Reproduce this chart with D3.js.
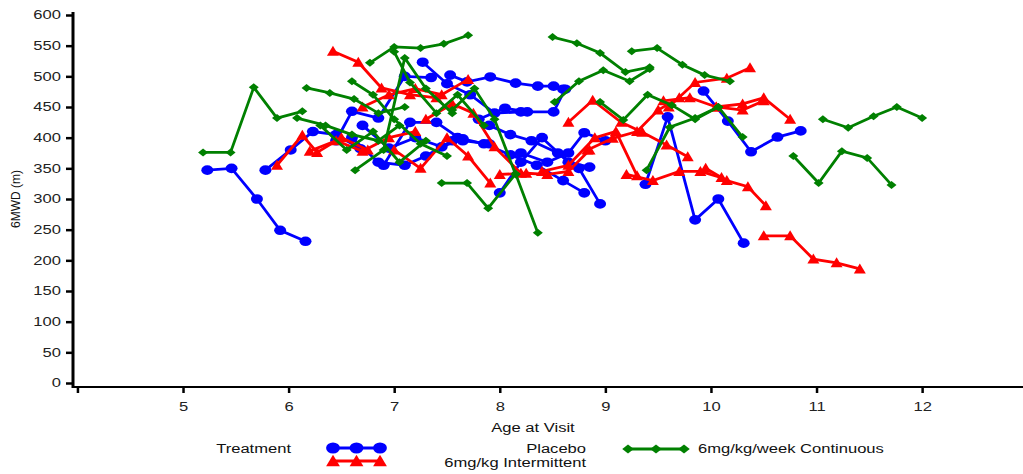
<!DOCTYPE html>
<html>
<head>
<meta charset="utf-8">
<script src="https://cdn.jsdelivr.net/npm/d3@7"></script>
<style>
  body { margin: 0; background: #fff; }
  text { font-family: "Liberation Sans", Arial, sans-serif; fill: #111; }
  .tick text { font-size: 12px; fill: #222; }
</style>
</head>
<body>
<div id="chart"></div>
<script>
// age at visit / 6MWD per subject
const placebo = [
  [[5.23,347],[5.46,350],[5.70,300],[5.92,249],[6.16,231]],
  [[5.78,347],[6.02,380],[6.23,410],[6.45,405],[6.68,382]],
  [[6.45,395],[6.60,443],[6.85,432],[7.10,500],[7.35,498]],
  [[7.27,523],[7.50,488],[7.72,470],[7.95,440],[8.20,442]],
  [[7.53,502],[7.69,491],[7.91,499],[8.15,489],[8.36,484],[8.51,484],[8.60,479]],
  [[7.80,430],[8.05,448],[8.26,442],[8.51,442],[8.62,479]],
  [[6.90,355],[7.15,425],[7.40,425],[7.65,395],[7.90,390]],
  [[7.60,400],[7.85,390],[8.10,372],[8.35,355],[8.60,330],[8.80,310]],
  [[7.90,420],[8.10,405],[8.30,395],[8.55,375],[8.75,350],[8.95,292]],
  [[8.00,310],[8.20,360],[8.40,400],[8.65,360],[8.85,352]],
  [[8.20,375],[8.45,360],[8.65,375],[8.80,408],[9.00,395]],
  [[9.38,324],[9.59,434],[9.85,266],[10.07,300],[10.31,228]],
  [[9.93,476],[10.16,427],[10.38,377],[10.63,401],[10.85,411]],
  [[6.70,420],[6.95,383],[7.20,400],[7.45,385],[7.65,398]],
  [[6.60,400],[6.85,360],[7.10,355],[7.30,370],[7.55,395]]
];
const intermittent = [
  [[6.42,541],[6.66,523],[6.88,481],[7.15,470],[7.40,465]],
  [[5.89,355],[6.13,404],[6.27,376],[6.50,400],[6.75,380]],
  [[6.20,378],[6.45,395],[6.70,378],[6.95,400],[7.20,410]],
  [[6.70,450],[6.95,470],[7.20,480],[7.45,470],[7.70,495]],
  [[7.00,380],[7.25,350],[7.50,400],[7.70,370],[7.91,326]],
  [[7.30,430],[7.55,455],[7.75,440],[7.95,385],[8.20,342]],
  [[8.00,340],[8.25,342],[8.45,340],[8.65,345],[8.85,380]],
  [[8.65,425],[8.88,461],[9.15,425],[9.35,409],[9.58,388],[9.78,369]],
  [[8.83,380],[9.07,399],[9.30,410],[9.50,445],[9.70,465]],
  [[9.60,450],[9.85,490],[10.15,497],[10.37,514]],
  [[9.20,340],[9.45,330],[9.70,345],[9.90,345],[10.10,335]],
  [[9.55,460],[9.80,465],[10.05,450],[10.30,445],[10.50,460]],
  [[9.95,350],[10.15,330],[10.35,320],[10.52,289]],
  [[10.50,240],[10.75,240],[10.97,202],[11.19,196],[11.41,186]],
  [[10.05,450],[10.30,455],[10.50,465],[10.75,430]],
  [[8.40,345],[8.65,355],[8.90,400],[9.10,410],[9.30,338]]
];
const continuous = [
  [[5.19,376],[5.45,376],[5.67,482],[5.89,432],[6.13,443]],
  [[6.08,432],[6.35,420],[6.60,405],[6.85,395],[7.05,420]],
  [[6.17,481],[6.39,473],[6.62,463],[6.85,440],[7.10,450]],
  [[6.77,522],[7.00,548],[7.25,546],[7.47,553],[7.70,567]],
  [[7.00,540],[7.15,490],[7.40,440],[7.60,470],[7.85,420]],
  [[6.60,492],[6.80,470],[7.00,430],[7.25,390],[7.50,370]],
  [[6.63,347],[6.90,380],[7.10,530],[7.30,480],[7.55,440]],
  [[7.45,326],[7.69,326],[7.89,285],[8.15,341],[8.36,245]],
  [[7.55,445],[7.76,480],[7.95,430],[8.15,340]],
  [[8.52,458],[8.75,492],[8.98,510],[9.23,492],[9.42,512]],
  [[8.50,564],[8.73,554],[8.95,538],[9.19,507],[9.42,515]],
  [[9.25,541],[9.49,546],[9.73,519],[9.94,502],[10.18,492]],
  [[8.95,458],[9.17,429],[9.40,470],[9.63,453],[9.85,430],[10.07,450],[10.30,401]],
  [[9.39,347],[9.61,417],[9.85,432],[10.07,450]],
  [[11.06,430],[11.30,416],[11.54,435],[11.76,450],[12.00,432]],
  [[10.78,370],[11.02,326],[11.24,378],[11.48,367],[11.71,323]],
  [[6.30,420],[6.55,380],[6.80,410],[7.05,360],[7.30,395]]
];
const xTicks = [4, 5, 6, 7, 8, 9, 10, 11, 12];
const yTicks = [0, 50, 100, 150, 200, 250, 300, 350, 400, 450, 500, 550, 600];
const groups = [
  {name: "Placebo", color: "#0000ff", shape: "circle", data: placebo},
  {name: "6mg/kg Intermittent", color: "#ff0000", shape: "triangle", data: intermittent},
  {name: "6mg/kg/week Continuous", color: "#008000", shape: "diamond", data: continuous}
];

const width = 1023, height = 474;
const stretch = 1.38; // the picture's text is wide, like a horizontally stretched image

const svg = d3.select("#chart").append("svg")
  .attr("width", width).attr("height", height);

const xScale = d3.scaleLinear().domain([3.958, 12.927]).range([73, 1020]);
const yScale = d3.scaleLinear().domain([0, 600]).range([383, 15]);

// marker shapes
function marker(sel, shape, color, k) {
  k = k || 1;
  if (shape === "circle") {
    sel.append("ellipse").attr("rx", 6 * k).attr("ry", 4.8 * k).attr("fill", color);
  } else if (shape === "triangle") {
    sel.append("path").attr("d", `M0,${-5.5*k}L${6*k},${4.5*k}L${-6*k},${4.5*k}Z`).attr("fill", color);
  } else {
    sel.append("path").attr("d", `M0,${-4*k}L${5*k},0L0,${4*k}L${-5*k},0Z`).attr("fill", color);
  }
}

// stretched text placed at (x, y)
function wideText(parent, x, y, str, anchor, size) {
  return parent.append("text")
    .attr("transform", `translate(${x},${y}) scale(${stretch},1)`)
    .attr("text-anchor", anchor || "start")
    .attr("font-size", size || 12)
    .text(str);
}

const line = d3.line().x(d => xScale(d[0])).y(d => yScale(d[1]));

// draw subjects
groups.forEach(function(g) {
  const subj = svg.append("g").selectAll("g")
    .data(g.data).enter().append("g");
  subj.append("path")
    .attr("d", line)
    .attr("fill", "none")
    .attr("stroke", g.color)
    .attr("stroke-width", 2.8);
  subj.selectAll("g.pt")
    .data(d => d).enter().append("g")
    .attr("class", "pt")
    .attr("transform", d => `translate(${xScale(d[0])},${yScale(d[1])})`)
    .each(function() { marker(d3.select(this), g.shape, g.color); });
});

// axes
const yAxis = svg.append("g")
  .attr("transform", "translate(73,0)")
  .call(d3.axisLeft(yScale).tickValues(yTicks).tickSize(7));
yAxis.select(".domain").attr("d", "M0,12V388").attr("stroke-width", 3);
yAxis.selectAll(".tick line").attr("stroke-width", 2.5);
yAxis.selectAll(".tick text")
  .attr("x", 0)
  .attr("transform", `translate(-12,0) scale(${stretch},1)`);

const xAxis = svg.append("g")
  .attr("transform", "translate(0,387)")
  .call(d3.axisBottom(xScale).tickValues(xTicks).tickSize(6).tickPadding(9)
    .tickFormat(d => d === 4 ? "" : d));
xAxis.select(".domain").attr("d", `M73,0H${width}`).attr("stroke-width", 2);
xAxis.selectAll(".tick line").attr("stroke-width", 2.5);
xAxis.selectAll(".tick text").attr("transform", `scale(${stretch},1)`);

// axis titles
svg.append("text")
  .attr("transform", "translate(20,199) rotate(-90)")
  .attr("text-anchor", "middle")
  .attr("font-size", 12)
  .text("6MWD (m)");

wideText(svg, 533, 432, "Age at Visit", "middle");

// legend
const legend = svg.append("g");
wideText(legend, 291, 453, "Treatment", "end");

function legendKey(x0, y0, g, w) {
  const k = legend.append("g");
  k.append("line").attr("x1", x0).attr("x2", x0 + w).attr("y1", y0).attr("y2", y0)
    .attr("stroke", g.color).attr("stroke-width", 2.8);
  [0, w / 2, w].forEach(function(dx) {
    const m = k.append("g").attr("transform", `translate(${x0 + dx},${y0})`);
    marker(m, g.shape, g.color, 1.15);
  });
}
legendKey(333, 448, groups[0], 47);
legendKey(333, 461, groups[1], 47);
legendKey(628, 449, groups[2], 56);

wideText(legend, 586, 453, groups[0].name, "end");
wideText(legend, 586, 467, groups[1].name, "end");
wideText(legend, 698, 453, groups[2].name, "start");
</script>
</body>
</html>
